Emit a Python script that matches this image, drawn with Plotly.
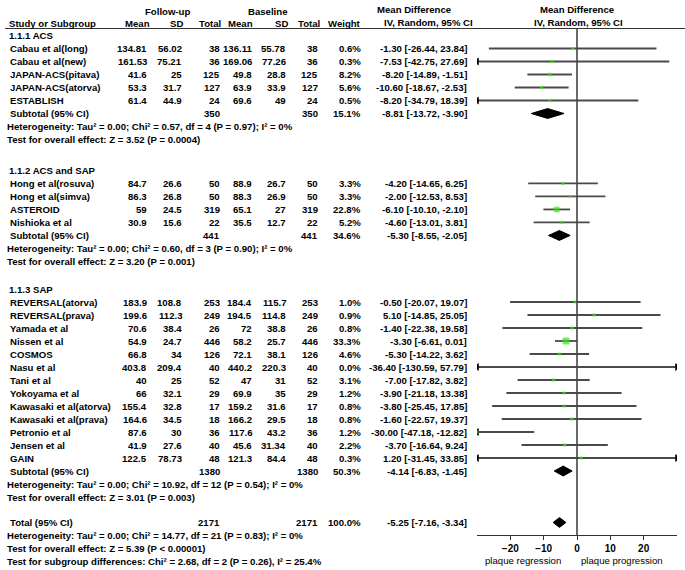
import plotly.graph_objects as go

# ---------------- data ----------------
groups = ["1.1.1 ACS", "1.1.2 ACS and SAP", "1.1.3 SAP"]

studies_g1 = ["Cabau et al(long)", "Cabau et al(new)", "JAPAN-ACS(pitava)", "JAPAN-ACS(atorva)", "ESTABLISH"]
studies_g2 = ["Hong et al(rosuva)", "Hong et al(simva)", "ASTEROID", "Nishioka et al"]
studies_g3 = ["REVERSAL(atorva)", "REVERSAL(prava)", "Yamada et al", "Nissen et al", "COSMOS", "Nasu et al",
              "Tani et al", "Yokoyama et al", "Kawasaki et al(atorva)", "Kawasaki et al(prava)",
              "Petronio et al", "Jensen et al", "GAIN"]

fu_mean = ["134.81", "161.53", "41.6", "53.3", "61.4",
           "84.7", "86.3", "59", "30.9",
           "183.9", "199.6", "70.6", "54.9", "66.8", "403.8", "40", "66", "155.4", "164.6", "87.6", "41.9", "122.5"]
fu_sd = ["56.02", "75.21", "25", "31.7", "44.9",
         "26.6", "26.8", "24.5", "15.6",
         "108.8", "112.3", "38.4", "24.7", "34", "209.4", "25", "32.1", "32.8", "34.5", "30", "27.6", "78.73"]
fu_n = ["38", "36", "125", "127", "24",
        "50", "50", "319", "22",
        "253", "249", "26", "446", "126", "40", "52", "29", "17", "18", "36", "40", "48"]
bl_mean = ["136.11", "169.06", "49.8", "63.9", "69.6",
           "88.9", "88.3", "65.1", "35.5",
           "184.4", "194.5", "72", "58.2", "72.1", "440.2", "47", "69.9", "159.2", "166.2", "117.6", "45.6", "121.3"]
bl_sd = ["55.78", "77.26", "28.8", "33.9", "49",
         "26.7", "26.9", "27", "12.7",
         "115.7", "114.8", "38.8", "25.7", "38.1", "220.3", "31", "35", "31.6", "29.5", "43.2", "31.34", "84.4"]
bl_n = fu_n
weight = [0.6, 0.3, 8.2, 5.6, 0.5,
          3.3, 3.3, 22.8, 5.2,
          1.0, 0.9, 0.8, 33.3, 4.6, 0.0, 3.1, 1.2, 0.8, 0.8, 1.2, 2.2, 0.3]
md = [-1.30, -7.53, -8.20, -10.60, -8.20,
      -4.20, -2.00, -6.10, -4.60,
      -0.50, 5.10, -1.40, -3.30, -5.30, -36.40, -7.00, -3.90, -3.80, -1.60, -30.00, -3.70, 1.20]
ci_lo = [-26.44, -42.75, -14.89, -18.67, -34.79,
         -14.65, -12.53, -10.10, -13.01,
         -20.07, -14.85, -22.38, -6.61, -14.22, -130.59, -17.82, -21.18, -25.45, -22.57, -47.18, -16.64, -31.45]
ci_hi = [23.84, 27.69, -1.51, -2.53, 18.39,
         6.25, 8.53, -2.10, 3.81,
         19.07, 25.05, 19.58, 0.01, 3.62, 57.79, 3.82, 13.38, 17.85, 19.37, -12.82, 9.24, 33.85]

sub_n = ["350", "441", "1380"]
sub_weight = ["15.1%", "34.6%", "50.3%"]
sub_md = [-8.81, -5.30, -4.14]
sub_lo = [-13.72, -8.55, -6.83]
sub_hi = [-3.90, -2.05, -1.45]
het_text = ["Heterogeneity: Tau² = 0.00; Chi² = 0.57, df = 4 (P = 0.97); I² = 0%",
            "Heterogeneity: Tau² = 0.00; Chi² = 0.60, df = 3 (P = 0.90); I² = 0%",
            "Heterogeneity: Tau² = 0.00; Chi² = 10.92, df = 12 (P = 0.54); I² = 0%"]
test_text = ["Test for overall effect: Z = 3.52 (P = 0.0004)",
             "Test for overall effect: Z = 3.20 (P = 0.001)",
             "Test for overall effect: Z = 3.01 (P = 0.003)"]

total_n = "2171"
total_md, total_lo, total_hi = -5.25, -7.16, -3.34
total_lines = ["Heterogeneity: Tau² = 0.00; Chi² = 14.77, df = 21 (P = 0.83); I² = 0%",
               "Test for overall effect: Z = 5.39 (P < 0.00001)",
               "Test for subgroup differences: Chi² = 2.68, df = 2 (P = 0.26), I² = 25.4%"]

x_ticks = [-20, -10, 0, 10, 20]
x_min, x_max = -30, 30

# ---------------- layout helpers ----------------
W, H = 685, 570
ROW0, ROWH = 35.5, 13.0          # pixel y of row 0, row height
GAPS = [2.38, 2.12, 1.96]        # row steps after each group's last line


def prow(ypx):
    return (ypx - ROW0) / ROWH


FONT = "Liberation Sans, Arial, Helvetica, sans-serif"
FS = 9.6
annots = []


def txt(s, xpx, row, anchor="left", bold=True, size=FS):
    annots.append(dict(text=s, x=xpx / W, xref="paper", y=row, yref="y", xanchor=anchor,
                       yanchor="middle", showarrow=False,
                       font=dict(family=FONT, size=size, color="black",
                                 weight="bold" if bold else "normal")))


# columns (right edges in px)
COL = dict(fm=149, fs=184, fn=222, bm=254, bs=288, bn=320, w=363, md=469)
XL = 7

# headers
txt("Follow-up", 167, prow(11), "center")
txt("Baseline", 267, prow(11), "center")
txt("Mean Difference", 414, prow(9), "center")
txt("Mean Difference", 577, prow(9), "center")
hr = prow(23.5)
txt("Study or Subgroup", XL, hr, "left")
txt("Mean", 152, hr, "right")
txt("SD", 185, hr, "right")
txt("Total", 223, hr, "right")
txt("Mean", 255, hr, "right")
txt("SD", 290, hr, "right")
txt("Total", 322, hr, "right")
txt("Weight", 363, hr, "right")
txt("IV, Random, 95% CI", 428, prow(22.5), "center")
txt("IV, Random, 95% CI", 578, prow(22.5), "center")

# rows
group_studies = [studies_g1, studies_g2, studies_g3]
study_rows = []
sub_rows = []
r = 0.0
k = 0
for gi, g in enumerate(groups):
    txt(g, XL, r, "left")
    r += 1
    for name in group_studies[gi]:
        txt(name, XL + 1, r)
        txt(fu_mean[k], COL["fm"], r, "right")
        txt(fu_sd[k], COL["fs"], r, "right")
        txt(fu_n[k], COL["fn"], r, "right")
        txt(bl_mean[k], COL["bm"], r, "right")
        txt(bl_sd[k], COL["bs"], r, "right")
        txt(bl_n[k], COL["bn"], r, "right")
        txt(f"{weight[k]:.1f}%", COL["w"], r, "right")
        txt(f"{md[k]:.2f} [{ci_lo[k]:.2f}, {ci_hi[k]:.2f}]", COL["md"], r, "right")
        study_rows.append(r)
        k += 1
        r += 1
    txt("Subtotal (95% CI)", XL + 1, r, "left")
    txt(sub_n[gi], COL["fn"], r, "right")
    txt(sub_n[gi], COL["bn"], r, "right")
    txt(sub_weight[gi], COL["w"], r, "right")
    txt(f"{sub_md[gi]:.2f} [{sub_lo[gi]:.2f}, {sub_hi[gi]:.2f}]", COL["md"], r, "right")
    sub_rows.append(r)
    r += 1
    txt(het_text[gi], XL - 2, r)
    r += 1
    txt(test_text[gi], XL - 2, r)
    r += GAPS[gi]

total_row = r
txt("Total (95% CI)", XL + 1, r, "left")
txt(total_n, COL["fn"], r, "right")
txt(total_n, COL["bn"], r, "right")
txt("100.0%", COL["w"], r, "right")
txt(f"{total_md:.2f} [{total_lo:.2f}, {total_hi:.2f}]", COL["md"], r, "right")
for line in total_lines:
    r += 1
    txt(line, XL - 2, r)

# ---------------- forest traces ----------------
fig = go.Figure()

lx, ly = [], []
la_x, la_y, ra_x, ra_y = [], [], [], []
for i, rr in enumerate(study_rows):
    lx += [max(ci_lo[i], x_min), min(ci_hi[i], x_max), None]
    ly += [rr, rr, None]
    if ci_lo[i] < x_min:
        la_x.append(x_min); la_y.append(rr)
    if ci_hi[i] > x_max:
        ra_x.append(x_max); ra_y.append(rr)

fig.add_trace(go.Scatter(x=lx, y=ly, mode="lines", line=dict(color="#4a4a4a", width=1.8),
                         hoverinfo="skip", showlegend=False))
fig.add_trace(go.Scatter(x=la_x, y=la_y, mode="markers",
                         marker=dict(symbol="triangle-left", size=7, color="black"),
                         showlegend=False, hoverinfo="skip"))
fig.add_trace(go.Scatter(x=ra_x, y=ra_y, mode="markers",
                         marker=dict(symbol="triangle-right", size=7, color="black"),
                         showlegend=False, hoverinfo="skip"))
sizes = [max(3.0, 12 * (w / 100) ** 0.5) for w in weight]
fig.add_trace(go.Scatter(x=md, y=study_rows, mode="markers",
                         marker=dict(symbol="square", size=sizes, color="#3de21c", line=dict(width=0)),
                         showlegend=False, hoverinfo="skip"))

DH = 0.38
all_d = list(zip(sub_md, sub_lo, sub_hi, sub_rows)) + [(total_md, total_lo, total_hi, total_row)]
for m, lo, hi, rr in all_d:
    fig.add_trace(go.Scatter(x=[lo, m, hi, m, lo], y=[rr, rr - DH, rr, rr + DH, rr], mode="lines",
                             fill="toself", fillcolor="black", line=dict(color="black", width=1),
                             showlegend=False, hoverinfo="skip"))

axis_px = 535
shapes = [
    dict(type="line", xref="paper", yref="y", x0=5 / W, x1=1, y0=prow(28.5), y1=prow(28.5),
         line=dict(color="#333333", width=1.2)),
    dict(type="line", xref="x", yref="y", x0=0, x1=0, y0=prow(28.5), y1=prow(axis_px),
         line=dict(color="#444444", width=1.6)),
]

txt("plaque regression", 523, prow(560), "center", bold=False, size=9.6)
txt("plaque progression", 622, prow(560), "center", bold=False, size=9.6)

fig.update_layout(
    width=W, height=H, margin=dict(l=0, r=0, t=0, b=0),
    paper_bgcolor="white", plot_bgcolor="white",
    annotations=annots, shapes=shapes,
    xaxis=dict(domain=[477 / W, 677 / W], range=[x_min, x_max], anchor="free",
               position=1 - axis_px / H, showline=True, linecolor="#333333", linewidth=1.2,
               ticks="outside", ticklen=4, tickcolor="#333333", tickvals=x_ticks,
               tickfont=dict(family=FONT, size=10, color="black", weight="bold"),
               showgrid=False, zeroline=False, fixedrange=True, automargin=False),
    yaxis=dict(domain=[0, 1], range=[prow(H), prow(0)], visible=False, showgrid=False,
               zeroline=False, fixedrange=True),
)

fig.write_html("out.html", config={"displayModeBar": False},
               post_script="document.body.style.margin='0';document.body.style.padding='0';")
